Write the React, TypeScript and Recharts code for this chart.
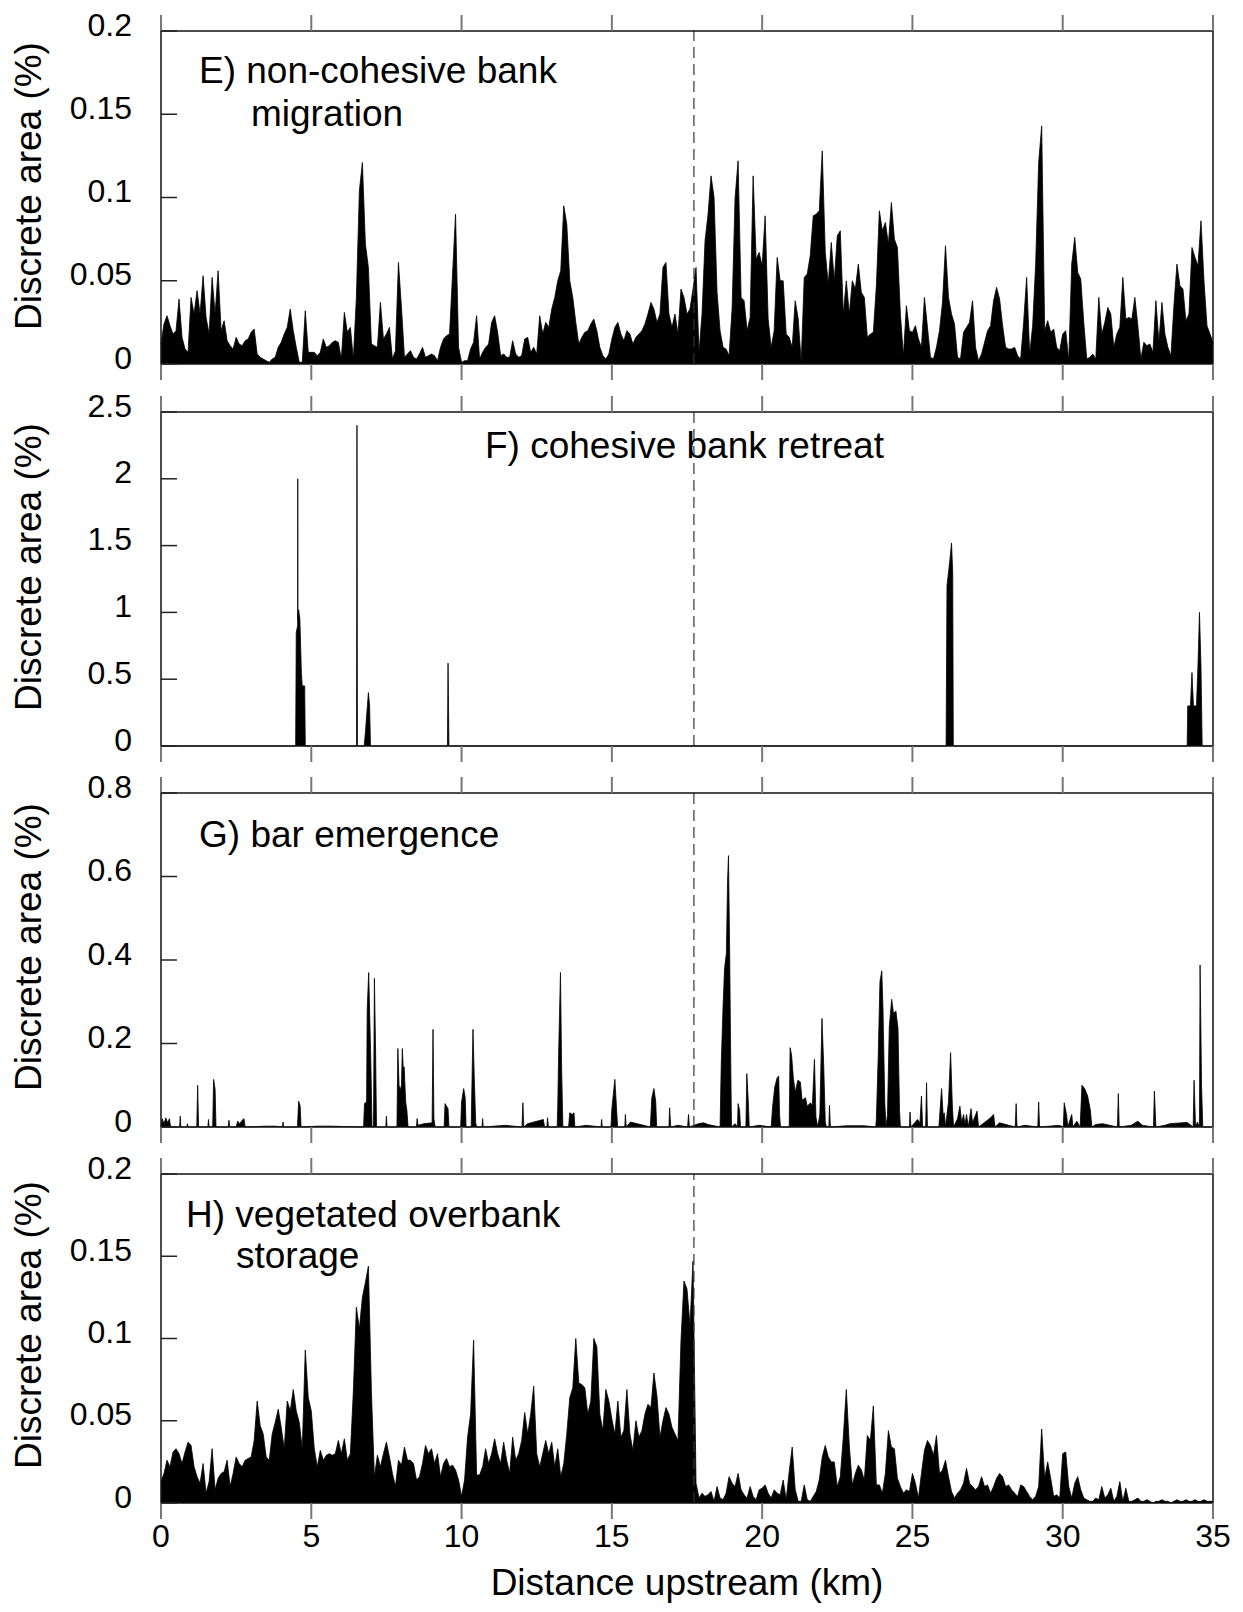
import { AreaChart, Area, XAxis, YAxis, ReferenceLine } from "recharts";

const FONT = "'Liberation Sans', Arial, Helvetica, sans-serif";

// distance ticks (km) shared by all four panels
const xTicks = [0, 5, 10, 15, 20, 25, 30, 35];
const DIVIDE_KM = 17.73;

const eTicks = [0, 0.05, 0.1, 0.15, 0.2];
const fTicks = [0, 0.5, 1, 1.5, 2, 2.5];
const gTicks = [0, 0.2, 0.4, 0.6, 0.8];
const hTicks = [0, 0.05, 0.1, 0.15, 0.2];

// E) non-cohesive bank migration, every 0.1 km from 0 to 35
const eVal = [
  0.012, 0.024, 0.029, 0.023, 0.018, 0.02, 0.039, 0.016, 0.009, 0.007,
  0.04, 0.03, 0.044, 0.03, 0.053, 0.028, 0.018, 0.052, 0.03, 0.056,
  0.02, 0.026, 0.014, 0.011, 0.009, 0.016, 0.012, 0.011, 0.014, 0.015,
  0.019, 0.021, 0.006, 0.004, 0.003, 0.002, 0.001, 0.003, 0.004, 0.01,
  0.013, 0.018, 0.022, 0.033, 0.02, 0.01, 0.001, 0.001, 0.032, 0.007,
  0.007, 0.007, 0.005, 0.007, 0.015, 0.01, 0.011, 0.013, 0.014, 0.013,
  0.003, 0.031, 0.019, 0.022, 0.003, 0.04, 0.104, 0.121, 0.072, 0.058,
  0.012, 0.011, 0.01, 0.037, 0.015, 0.018, 0.022, 0.003, 0.008, 0.061,
  0.034, 0.004, 0.006, 0.008, 0.004, 0.003, 0.006, 0.01, 0.004, 0.005,
  0.006, 0.005, 0.002, 0.01, 0.015, 0.017, 0.018, 0.054, 0.09, 0.01,
  0.001, 0.002, 0.002, 0.009, 0.013, 0.029, 0.003, 0.007, 0.01, 0.012,
  0.025, 0.029, 0.019, 0.005, 0.006, 0.004, 0.004, 0.014, 0.006, 0.004,
  0.005, 0.015, 0.016, 0.007, 0.01, 0.006, 0.029, 0.018, 0.025, 0.022,
  0.033, 0.04, 0.05, 0.056, 0.095, 0.084, 0.05, 0.04, 0.025, 0.012,
  0.016, 0.019, 0.02, 0.024, 0.027, 0.02, 0.01, 0.005, 0.003, 0.006,
  0.015, 0.022, 0.025, 0.018, 0.014, 0.02, 0.018, 0.012, 0.016, 0.018,
  0.02, 0.024, 0.03, 0.037, 0.033, 0.025, 0.03, 0.058, 0.061, 0.03,
  0.022, 0.03, 0.018, 0.045, 0.04, 0.03, 0.033, 0.045, 0.058, 0.007,
  0.03, 0.074, 0.09, 0.113, 0.1, 0.043, 0.02, 0.01, 0.009, 0.005,
  0.033, 0.1, 0.122, 0.04, 0.038, 0.02, 0.028, 0.113, 0.063, 0.067,
  0.059, 0.089, 0.027, 0.01, 0.02, 0.064, 0.05, 0.05, 0.018, 0.016,
  0.01, 0.038, 0.027, 0.001, 0.052, 0.054, 0.065, 0.089, 0.09, 0.092,
  0.128, 0.067, 0.048, 0.073, 0.05, 0.077, 0.08, 0.03, 0.05, 0.03,
  0.05, 0.045, 0.06, 0.043, 0.04, 0.016, 0.018, 0.019, 0.047, 0.092,
  0.08, 0.085, 0.072, 0.097, 0.075, 0.07, 0.03, 0.005, 0.035, 0.02,
  0.019, 0.023, 0.015, 0.01, 0.04, 0.022, 0.004, 0.003, 0.01, 0.02,
  0.037, 0.071, 0.04, 0.03, 0.024, 0.004, 0.003, 0.019, 0.022, 0.025,
  0.038, 0.01, 0.002, 0.006, 0.013, 0.02, 0.023, 0.038, 0.046, 0.039,
  0.023, 0.01, 0.009, 0.009, 0.01, 0.005, 0.003, 0.025, 0.052, 0.006,
  0.023, 0.06, 0.121, 0.143, 0.02, 0.026, 0.019, 0.021, 0.01, 0.008,
  0.018, 0.02, 0.002, 0.06, 0.076, 0.055, 0.051, 0.025, 0.003, 0.004,
  0.006, 0.003, 0.04, 0.018, 0.025, 0.034, 0.03, 0.01, 0.018, 0.022,
  0.052, 0.027, 0.028, 0.027, 0.04, 0.023, 0.003, 0.013, 0.011, 0.012,
  0.007, 0.038, 0.013, 0.037, 0.018, 0.01, 0.005, 0.035, 0.06, 0.047,
  0.045, 0.026, 0.03, 0.07, 0.064, 0.059, 0.086, 0.05, 0.023, 0.018, 0.013,
];

// F) cohesive bank retreat, [km, %] (zero everywhere else)
const fPoints: [number, number][] = [
  [0, 0], [4.48, 0], [4.5, 0.85], [4.545, 0.9], [4.55, 2.0], [4.555, 0.95],
  [4.58, 1.02], [4.62, 0.95], [4.67, 0.55], [4.7, 0.45], [4.78, 0.45], [4.8, 0],
  [6.505, 0], [6.52, 2.4], [6.535, 0],
  [6.76, 0], [6.8, 0.1], [6.9, 0.4], [6.94, 0.3], [6.97, 0],
  [9.53, 0], [9.55, 0.62], [9.58, 0],
  [26.12, 0], [26.15, 1.2], [26.25, 1.4], [26.3, 1.52], [26.34, 1.3], [26.36, 0],
  [34.14, 0], [34.16, 0.3], [34.25, 0.3], [34.3, 0.55], [34.35, 0.3], [34.45, 0.3],
  [34.5, 0.6], [34.55, 1.0], [34.6, 0.6], [34.64, 0], [35, 0],
];

// G) bar emergence, [km, %]
const gPoints: [number, number][] = [
  [0, 0], [0.04, 0.02], [0.1, 0.008], [0.16, 0.022], [0.22, 0.01], [0.28, 0.02], [0.32, 0],
  [0.62, 0], [0.64, 0.026], [0.66, 0], [0.86, 0], [0.88, 0.008], [0.9, 0],
  [1.19, 0], [1.22, 0.1], [1.25, 0], [1.56, 0], [1.58, 0.018], [1.6, 0],
  [1.72, 0], [1.75, 0.114], [1.8, 0.09], [1.83, 0], [2.24, 0], [2.26, 0.016], [2.29, 0],
  [2.5, 0], [2.55, 0.014], [2.62, 0.008], [2.7, 0.016], [2.76, 0.02], [2.8, 0],
  [3.5, 0.002], [3.8, 0.002], [4.04, 0], [4.06, 0.012], [4.08, 0],
  [4.54, 0], [4.58, 0.062], [4.63, 0.05], [4.66, 0], [5.2, 0.002], [5.65, 0.002],
  [6.74, 0], [6.77, 0.056], [6.84, 0.06], [6.86, 0.28], [6.91, 0.37], [6.95, 0.25],
  [6.98, 0.16], [7.02, 0], [7.07, 0], [7.1, 0.356], [7.14, 0.18], [7.17, 0],
  [7.48, 0], [7.5, 0.026], [7.52, 0],
  [7.85, 0], [7.88, 0.188], [7.92, 0.1], [7.96, 0.088], [8.0, 0.1], [8.03, 0.188],
  [8.06, 0.14], [8.09, 0.144], [8.14, 0.06], [8.18, 0.04], [8.22, 0],
  [8.5, 0], [8.52, 0.02], [8.55, 0.004], [8.75, 0.008],
  [9.02, 0.01], [9.05, 0.234], [9.08, 0.02], [9.12, 0],
  [9.42, 0], [9.45, 0.056], [9.5, 0.05], [9.55, 0.044], [9.58, 0],
  [9.97, 0], [10.0, 0.06], [10.07, 0.092], [10.12, 0.07], [10.15, 0],
  [10.32, 0], [10.35, 0.12], [10.38, 0.234], [10.42, 0.124], [10.47, 0.01], [10.5, 0],
  [10.68, 0], [10.7, 0.02], [10.72, 0], [11.45, 0.004],
  [12.01, 0], [12.04, 0.058], [12.07, 0], [12.2, 0.008],
  [12.72, 0.018], [12.76, 0], [12.84, 0], [12.86, 0.022], [12.89, 0],
  [13.18, 0], [13.2, 0.05], [13.23, 0.176], [13.29, 0.37], [13.33, 0.136], [13.37, 0],
  [13.56, 0], [13.6, 0.034], [13.68, 0.03], [13.74, 0.034], [13.77, 0],
  [14.15, 0.004], [14.64, 0], [14.66, 0.018], [14.68, 0],
  [14.97, 0], [15.0, 0.044], [15.1, 0.114], [15.15, 0.052], [15.19, 0],
  [15.43, 0], [15.45, 0.03], [15.48, 0], [15.62, 0.012],
  [16.28, 0], [16.33, 0.07], [16.4, 0.092], [16.46, 0.06], [16.49, 0],
  [16.9, 0], [16.92, 0.046], [16.96, 0], [17.2, 0.004],
  [17.52, 0], [17.55, 0.03], [17.58, 0], [17.88, 0.008], [18.05, 0.01], [18.2, 0.006],
  [18.6, 0], [18.64, 0.152], [18.7, 0.29], [18.75, 0.38], [18.81, 0.416], [18.85, 0.59],
  [18.88, 0.65], [18.92, 0.416], [18.95, 0.19], [18.98, 0],
  [19.1, 0.008], [19.18, 0], [19.2, 0.056], [19.25, 0.04], [19.28, 0],
  [19.46, 0], [19.49, 0.128], [19.54, 0.06], [19.57, 0], [19.9, 0.004],
  [20.3, 0], [20.35, 0.05], [20.42, 0.096], [20.5, 0.118], [20.55, 0.122], [20.58, 0.03], [20.61, 0],
  [20.9, 0], [20.93, 0.19], [20.98, 0.172], [21.04, 0.116], [21.1, 0.084], [21.19, 0.112],
  [21.27, 0.108], [21.33, 0.064], [21.44, 0.07], [21.5, 0.05], [21.61, 0.058], [21.67, 0.05],
  [21.74, 0.162], [21.79, 0.024], [21.85, 0],
  [21.92, 0.03], [21.99, 0.26], [22.05, 0.144], [22.1, 0.012], [22.14, 0],
  [22.22, 0], [22.24, 0.052], [22.27, 0], [22.8, 0.003], [23.4, 0.003],
  [23.78, 0], [23.8, 0.02], [23.86, 0.164], [23.92, 0.348], [23.98, 0.374], [24.02, 0.284],
  [24.08, 0.06], [24.12, 0], [24.17, 0.03], [24.23, 0.24], [24.31, 0.306], [24.37, 0.272],
  [24.45, 0.278], [24.52, 0.236], [24.57, 0.04], [24.6, 0],
  [24.9, 0], [24.92, 0.036], [24.95, 0], [25.1, 0.012], [25.17, 0.018], [25.25, 0.01],
  [25.3, 0.074], [25.34, 0], [25.44, 0], [25.47, 0.106], [25.5, 0],
  [25.88, 0], [25.9, 0.02], [25.97, 0.092], [26.02, 0.03], [26.06, 0.034], [26.1, 0],
  [26.2, 0.06], [26.27, 0.178], [26.33, 0.048], [26.37, 0],
  [26.5, 0.02], [26.58, 0.05], [26.64, 0.01], [26.7, 0.03], [26.75, 0.006], [26.8, 0.03],
  [26.86, 0], [26.95, 0.044], [27.0, 0.01], [27.15, 0.038], [27.2, 0],
  [27.6, 0.022], [27.7, 0.03], [27.75, 0], [27.9, 0.01],
  [28.42, 0], [28.45, 0.056], [28.48, 0], [28.74, 0.004],
  [29.17, 0], [29.2, 0.06], [29.23, 0], [29.88, 0.004],
  [30.02, 0], [30.05, 0.058], [30.13, 0.028], [30.17, 0], [30.3, 0.03], [30.34, 0], [30.47, 0.014],
  [30.58, 0], [30.64, 0.1], [30.73, 0.092], [30.83, 0.074], [30.92, 0.04], [30.97, 0],
  [31.1, 0.006], [31.32, 0.008], [31.82, 0], [31.85, 0.08], [31.88, 0],
  [32.28, 0.004], [32.5, 0.014], [32.65, 0.004], [33.02, 0], [33.05, 0.086], [33.1, 0],
  [33.4, 0.004], [33.57, 0.008], [34.14, 0.011],
  [34.34, 0], [34.37, 0.112], [34.42, 0], [34.48, 0.012], [34.55, 0],
  [34.57, 0.388], [34.62, 0.096], [34.66, 0], [35, 0],
];

// H) vegetated overbank storage, every 0.1 km from 0 to 35
const hVal = [
  0.013, 0.018, 0.026, 0.022, 0.031, 0.033, 0.03, 0.024, 0.031, 0.037,
  0.035, 0.022, 0.016, 0.012, 0.024, 0.006, 0.013, 0.033, 0.008, 0.015,
  0.018, 0.019, 0.026, 0.01, 0.018, 0.028, 0.024, 0.022, 0.026, 0.027,
  0.028, 0.038, 0.062, 0.047, 0.042, 0.028, 0.026, 0.042, 0.049, 0.057,
  0.046, 0.033, 0.062, 0.056, 0.069, 0.056, 0.049, 0.033, 0.093, 0.064,
  0.056, 0.033, 0.022, 0.032, 0.026, 0.029, 0.03, 0.029, 0.03, 0.038,
  0.03, 0.039, 0.026, 0.03, 0.068, 0.119, 0.106, 0.125, 0.134, 0.144,
  0.068, 0.016, 0.029, 0.022, 0.03, 0.037, 0.028, 0.018, 0.01, 0.026,
  0.023, 0.034, 0.026, 0.026, 0.024, 0.014, 0.016, 0.024, 0.035, 0.03,
  0.033, 0.024, 0.03, 0.016, 0.024, 0.027, 0.022, 0.023, 0.02, 0.014,
  0.004, 0.014, 0.04, 0.054, 0.099, 0.017, 0.017, 0.022, 0.033, 0.024,
  0.03, 0.039, 0.03, 0.024, 0.037, 0.026, 0.018, 0.04, 0.026, 0.03,
  0.038, 0.055, 0.042, 0.054, 0.071, 0.03, 0.022, 0.03, 0.038, 0.03,
  0.037, 0.022, 0.033, 0.016, 0.024, 0.042, 0.064, 0.07, 0.1, 0.073,
  0.072, 0.07, 0.054, 0.062, 0.1, 0.095, 0.054, 0.044, 0.069, 0.062,
  0.051, 0.042, 0.062, 0.04, 0.044, 0.069, 0.042, 0.032, 0.05, 0.04,
  0.044, 0.054, 0.06, 0.058, 0.079, 0.065, 0.04, 0.05, 0.058, 0.054,
  0.046, 0.042, 0.038, 0.099, 0.135, 0.13, 0.108, 0.147, 0.012, 0.003,
  0.006, 0.004, 0.005, 0.007, 0.001, 0.01, 0.003, 0.002, 0.006, 0.016,
  0.012, 0.01, 0.018, 0.008, 0.005, 0.003, 0.01, 0.004, 0.002, 0.008,
  0.009, 0.011, 0.006, 0.003, 0.008, 0.006, 0.005, 0.014, 0.002, 0.019,
  0.034, 0.008, 0.001, 0.001, 0.011, 0.002, 0.001, 0.004, 0.007, 0.014,
  0.028, 0.035, 0.028, 0.025, 0.025, 0.01, 0.016, 0.04, 0.069, 0.035,
  0.011, 0.018, 0.023, 0.02, 0.014, 0.041, 0.038, 0.059, 0.011, 0.011,
  0.006, 0.018, 0.044, 0.034, 0.033, 0.015, 0.01, 0.006, 0.008, 0.007,
  0.018, 0.012, 0.003, 0.018, 0.032, 0.038, 0.035, 0.029, 0.041, 0.018,
  0.02, 0.026, 0.016, 0.007, 0.003, 0.006, 0.008, 0.012, 0.021, 0.012,
  0.01, 0.008, 0.01, 0.016, 0.01, 0.011, 0.006, 0.01, 0.015, 0.018,
  0.016, 0.01, 0.011, 0.008, 0.006, 0.004, 0.011, 0.01, 0.007, 0.004,
  0.002, 0.004, 0.01, 0.045, 0.015, 0.025, 0.015, 0.004, 0.005, 0.003,
  0.03, 0.031, 0.01, 0.003, 0.012, 0.016, 0.008, 0.003, 0.002, 0.001,
  0.001, 0.003, 0.002, 0.01, 0.003, 0.005, 0.009, 0.001, 0.004, 0.013,
  0.001, 0.009, 0.001, 0.001, 0.002, 0.003, 0.001, 0.001, 0.002, 0.001,
  0, 0.001, 0.001, 0.002, 0.001, 0.001, 0, 0.001, 0.002, 0.001,
  0.001, 0.002, 0.001, 0.001, 0.002, 0.001, 0.001, 0.002, 0.001, 0.001, 0.001,
];

const gridRows = (vals: number[]) => vals.map((v, i) => ({ km: i / 10, v }));
const pairRows = (pts: [number, number][]) => pts.map(([km, v]) => ({ km, v }));

const CHART_W = 1235;
const TOP_H = 30;
const TICK_LEN = 16;
const TICK_FONT = 32;

function LeftTick(props: any) {
  const { x, y, payload } = props;
  return (
    <g>
      <line x1={x} x2={x + TICK_LEN} y1={y} y2={y} stroke="#222" strokeWidth={1.5} />
      <text
        x={x - 29}
        y={y - 7}
        dy="0.36em"
        textAnchor="end"
        fontSize={TICK_FONT}
        fontFamily={FONT}
        fill="#000"
      >
        {payload.value}
      </text>
    </g>
  );
}

function RightTick(props: any) {
  const { x, y } = props;
  return <line x1={x - TICK_LEN} x2={x} y1={y} y2={y} stroke="#222" strokeWidth={1.5} />;
}

function TopTick(props: any) {
  const { x, y } = props;
  return <line x1={x} x2={x} y1={y - TICK_LEN} y2={y} stroke="#777" strokeWidth={2} />;
}

function BottomTick(props: any) {
  const { x, y, payload, withLabel } = props;
  return (
    <g>
      <line x1={x} x2={x} y1={y} y2={y + TICK_LEN} stroke="#777" strokeWidth={2} />
      {withLabel && (
        <text
          x={x}
          y={y + TICK_LEN + 5}
          dy="0.71em"
          textAnchor="middle"
          fontSize={TICK_FONT}
          fontFamily={FONT}
          fill="#000"
        >
          {payload.value}
        </text>
      )}
    </g>
  );
}

type PanelProps = {
  rows: { km: number; v: number }[];
  yMax: number;
  yTicks: number[];
  plotTop: number;
  plotH: number;
  bottomLabels?: boolean;
};

function Panel({ rows, yMax, yTicks, plotTop, plotH, bottomLabels }: PanelProps) {
  const bottomH = bottomLabels ? 100 : TICK_LEN;
  const frame = { stroke: "#111", strokeWidth: 1.5 };
  return (
    <div style={{ position: "absolute", left: 0, top: plotTop - TOP_H - 8 }}>
      <AreaChart
        width={CHART_W}
        height={TOP_H + plotH + bottomH}
        data={rows}
        margin={{ top: 0, right: 10, bottom: 0, left: 0 }}
      >
        <XAxis
          xAxisId="top"
          orientation="top"
          type="number"
          dataKey="km"
          domain={[0, 35]}
          ticks={xTicks}
          interval={0}
          height={TOP_H}
          tickSize={0}
          tickMargin={0}
          tickLine={false}
          tick={<TopTick />}
          axisLine={frame}
        />
        <XAxis
          type="number"
          dataKey="km"
          domain={[0, 35]}
          ticks={xTicks}
          interval={0}
          height={bottomH}
          tickSize={0}
          tickMargin={0}
          tickLine={false}
          tick={<BottomTick withLabel={!!bottomLabels} />}
          axisLine={frame}
        />
        <YAxis
          type="number"
          domain={[0, yMax]}
          ticks={yTicks}
          interval={0}
          width={153}
          tickSize={0}
          tickMargin={0}
          tickLine={false}
          axisLine={frame}
          tick={<LeftTick />}
        />
        <YAxis
          yAxisId="right"
          orientation="right"
          type="number"
          domain={[0, yMax]}
          ticks={yTicks}
          interval={0}
          width={20}
          tickSize={0}
          tickMargin={0}
          tickLine={false}
          axisLine={frame}
          tick={<RightTick />}
        />
        <Area
          type="linear"
          dataKey="v"
          stroke="#000"
          strokeWidth={0.8}
          fill="#000"
          fillOpacity={1}
          dot={false}
          activeDot={false}
          isAnimationActive={false}
        />
        <ReferenceLine
          x={DIVIDE_KM}
          stroke="#333"
          strokeWidth={1.2}
          strokeDasharray="11 6"
        />
      </AreaChart>
    </div>
  );
}

const titleStyle = { fontFamily: FONT, fill: "#000" };

function YTitle({ cy }: { cy: number }) {
  return (
    <text
      x={41}
      y={cy}
      textAnchor="middle"
      fontSize={37}
      transform={`rotate(-90 41 ${cy})`}
      style={titleStyle}
    >
      Discrete area (%)
    </text>
  );
}

export default function App() {
  return (
    <div style={{ position: "relative", width: CHART_W, height: 1596, background: "#fff" }}>
      <Panel rows={gridRows(eVal)} yMax={0.2} yTicks={eTicks} plotTop={31} plotH={333} />
      <Panel rows={pairRows(fPoints)} yMax={2.5} yTicks={fTicks} plotTop={412} plotH={334} />
      <Panel rows={pairRows(gPoints)} yMax={0.8} yTicks={gTicks} plotTop={793} plotH={334} />
      <Panel rows={gridRows(hVal)} yMax={0.2} yTicks={hTicks} plotTop={1174} plotH={329} bottomLabels />
      <svg
        width={1243}
        height={1612}
        style={{ position: "absolute", left: -8, top: -8, pointerEvents: "none" }}
      >
        <YTitle cy={186} />
        <YTitle cy={567} />
        <YTitle cy={947} />
        <YTitle cy={1325} />
        <g fontSize={37} style={titleStyle}>
          <text x={199} y={83}>E) non-cohesive bank</text>
          <text x={251} y={126}>migration</text>
          <text x={485} y={458}>F) cohesive bank retreat</text>
          <text x={199} y={847}>G) bar emergence</text>
          <text x={186} y={1227}>H) vegetated overbank</text>
          <text x={236} y={1268}>storage</text>
        </g>
        <text x={687} y={1595} textAnchor="middle" fontSize={37} style={titleStyle}>
          Distance upstream (km)
        </text>
      </svg>
    </div>
  );
}
